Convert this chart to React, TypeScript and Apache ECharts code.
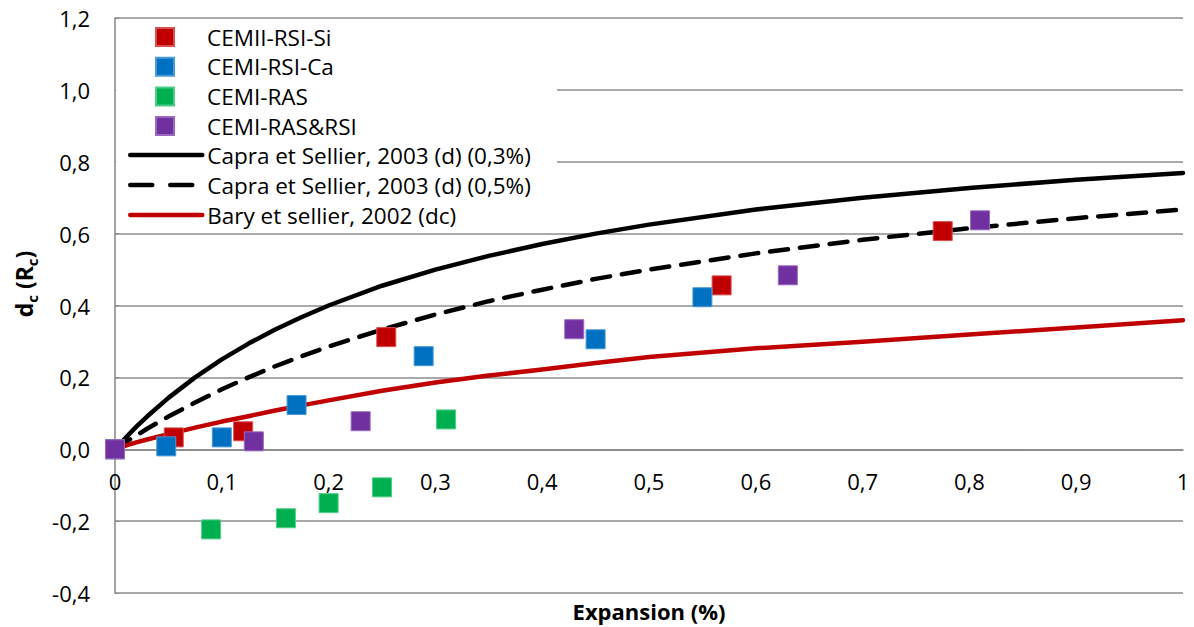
import React, { useEffect, useRef } from "react";
import * as echarts from "echarts";

const FONT = "'Open Sans', Lato, sans-serif";

// Scatter measurements [expansion %, d_c]
const siX = [0, 0.055, 0.12, 0.254, 0.568, 0.775];
const siY = [0, 0.033, 0.05, 0.312, 0.456, 0.607];
const caX = [0, 0.048, 0.1, 0.17, 0.289, 0.45, 0.55];
const caY = [0, 0.008, 0.033, 0.123, 0.259, 0.306, 0.423];
const rasX = [0.09, 0.16, 0.2, 0.25, 0.31];
const rasY = [-0.223, -0.192, -0.15, -0.106, 0.083];
const mixX = [0, 0.13, 0.23, 0.43, 0.63, 0.81];
const mixY = [0, 0.022, 0.078, 0.334, 0.484, 0.637];

// Model curves
const curveX = [0, 0.005, 0.01, 0.02, 0.03, 0.05, 0.075, 0.1, 0.125, 0.15, 0.175, 0.2, 0.25, 0.3, 0.35, 0.4, 0.45, 0.5, 0.6, 0.7, 0.8, 0.9, 1];
const capra03Y = [0, 0.016, 0.032, 0.063, 0.091, 0.143, 0.2, 0.25, 0.294, 0.333, 0.368, 0.4, 0.455, 0.5, 0.538, 0.571, 0.6, 0.625, 0.667, 0.7, 0.727, 0.75, 0.769];
const capra05Y = [0, 0.01, 0.02, 0.038, 0.057, 0.091, 0.13, 0.167, 0.2, 0.231, 0.259, 0.286, 0.333, 0.375, 0.412, 0.444, 0.474, 0.5, 0.545, 0.583, 0.615, 0.643, 0.667];
const baryY = [0, 0.005, 0.01, 0.019, 0.027, 0.042, 0.06, 0.077, 0.092, 0.108, 0.122, 0.136, 0.163, 0.186, 0.205, 0.222, 0.24, 0.257, 0.281, 0.299, 0.319, 0.339, 0.359];

const xTickMin = 0;
const xTickMax = 1;
const xTickStep = 0.1;
const yTickMin = -0.4;
const yTickMax = 1.2;
const yTickStep = 0.2;

const names = {
  si: "CEMII-RSI-Si",
  ca: "CEMI-RSI-Ca",
  ras: "CEMI-RAS",
  mix: "CEMI-RAS&RSI",
  c03: "Capra et Sellier, 2003 (d) (0,3%)",
  c05: "Capra et Sellier, 2003 (d) (0,5%)",
  bary: "Bary et sellier, 2002 (dc)",
};

const zip = (xs: number[], ys: number[]) => xs.map((x, i) => [x, ys[i]]);

export default function App() {
  const ref = useRef<HTMLDivElement>(null);
  useEffect(() => {
    const chart = echarts.init(ref.current!, null, { renderer: "svg" });
    const scatter = (name: string, xs: number[], ys: number[], color: string, border: string) => ({
      name,
      type: "scatter",
      data: zip(xs, ys),
      symbol: "rect",
      symbolSize: 19,
      itemStyle: { color, borderColor: border, borderWidth: 1, opacity: 1 },
      z: 3,
    });
    const line = (name: string, xs: number[], ys: number[], color: string, type: any) => ({
      name,
      type: "line",
      data: zip(xs, ys),
      symbol: "none",
      smooth: false,
      lineStyle: { color, width: 4.5, type, cap: "round", join: "round" },
      itemStyle: { color },
      z: 2,
    });
    const fmt = (v: number) => (Math.abs(v) < 1e-9 ? "0,0" : v.toFixed(1).replace(".", ","));
    const gridTop = 18;
    const gridBottom = 34;
    const plotH = 627 - gridTop - gridBottom;
    const zeroOffset = -(plotH * (0 - yTickMin)) / (yTickMax - yTickMin);
    const legendText = { fontFamily: FONT, fontSize: 22.5, color: "#000", lineHeight: 24 };
    const option: any = {
      animation: false,
      backgroundColor: "#fff",
      grid: { left: 115, right: 11, top: gridTop, bottom: gridBottom, containLabel: false },
      xAxis: {
        type: "value",
        position: "bottom",
        offset: zeroOffset,
        min: xTickMin,
        max: xTickMax,
        interval: xTickStep,
        axisLine: { onZero: false, lineStyle: { color: "#868686", width: 1.5 } },
        axisTick: { show: false },
        splitLine: { show: false },
        axisLabel: {
          fontFamily: FONT,
          fontSize: 22,
          color: "#000",
          margin: 21,
          formatter: (v: number) =>
            Math.abs(v) < 1e-9 ? "0" : Math.abs(v - 1) < 1e-9 ? "1" : v.toFixed(1).replace(".", ","),
        },
      },
      yAxis: {
        type: "value",
        min: yTickMin,
        max: yTickMax,
        interval: yTickStep,
        axisLine: { show: true, onZero: false, lineStyle: { color: "#868686", width: 1.5 } },
        axisTick: { show: true, inside: true, length: 4, lineStyle: { color: "#868686" } },
        splitLine: { show: true, lineStyle: { color: "#8c8c8c", width: 1.5 } },
        axisLabel: { fontFamily: FONT, fontSize: 22, color: "#000", margin: 25, formatter: fmt },
      },
      legend: [
        {
          data: [names.si, names.ca, names.ras, names.mix],
          orient: "vertical",
          left: 155,
          top: 25,
          padding: 0,
          itemWidth: 18,
          itemHeight: 18,
          itemGap: 5.7,
          icon: "rect",
          selectedMode: false,
          textStyle: { ...legendText, padding: [0, 0, 0, 28] },
        },
        {
          data: [
            { name: names.c03 },
            { name: names.c05, lineStyle: { type: [22, 18] } },
            { name: names.bary },
          ],
          orient: "vertical",
          left: 128,
          top: 143,
          padding: 0,
          itemWidth: 72,
          itemHeight: 14,
          itemGap: 6,
          selectedMode: false,
          itemStyle: { opacity: 0 },
          lineStyle: { width: 4.5, cap: "round" },
          textStyle: legendText,
        },
      ],
      graphic: [
        { type: "rect", z: 1, shape: { x: 116, y: 20, width: 441, height: 208 }, style: { fill: "#fff" } },
        {
          type: "text",
          x: 24,
          y: 284,
          rotation: Math.PI / 2,
          z: 5,
          style: {
            text: "{b|d}{s|c}{b| (R}{s|c}{b|)}",
            align: "center",
            verticalAlign: "middle",
            fill: "#000",
            rich: {
              b: { fontFamily: FONT, fontSize: 23, fontWeight: "bold", lineHeight: 30 },
              s: { fontFamily: FONT, fontSize: 15, fontWeight: "bold", verticalAlign: "bottom" },
            },
          },
        },
        {
          type: "text",
          x: 649,
          y: 611,
          z: 5,
          style: {
            text: "Expansion (%)",
            font: `bold 22px ${FONT}`,
            align: "center",
            verticalAlign: "middle",
            fill: "#000",
          },
        },
      ],
      series: [
        line(names.c03, curveX, capra03Y, "#000", "solid"),
        line(names.c05, curveX, capra05Y, "#000", [18, 12]),
        line(names.bary, curveX, baryY, "#C00000", "solid"),
        scatter(names.si, siX, siY, "#C00000", "#d85050"),
        scatter(names.ca, caX, caY, "#0070C0", "#4a9ad8"),
        scatter(names.ras, rasX, rasY, "#00B050", "#50cc88"),
        scatter(names.mix, mixX, mixY, "#7030A0", "#9a68c0"),
      ],
    };
    chart.setOption(option);
    return () => chart.dispose();
  }, []);
  return <div ref={ref} style={{ position: "fixed", left: 0, top: 0, width: 1194, height: 627 }} />;
}
